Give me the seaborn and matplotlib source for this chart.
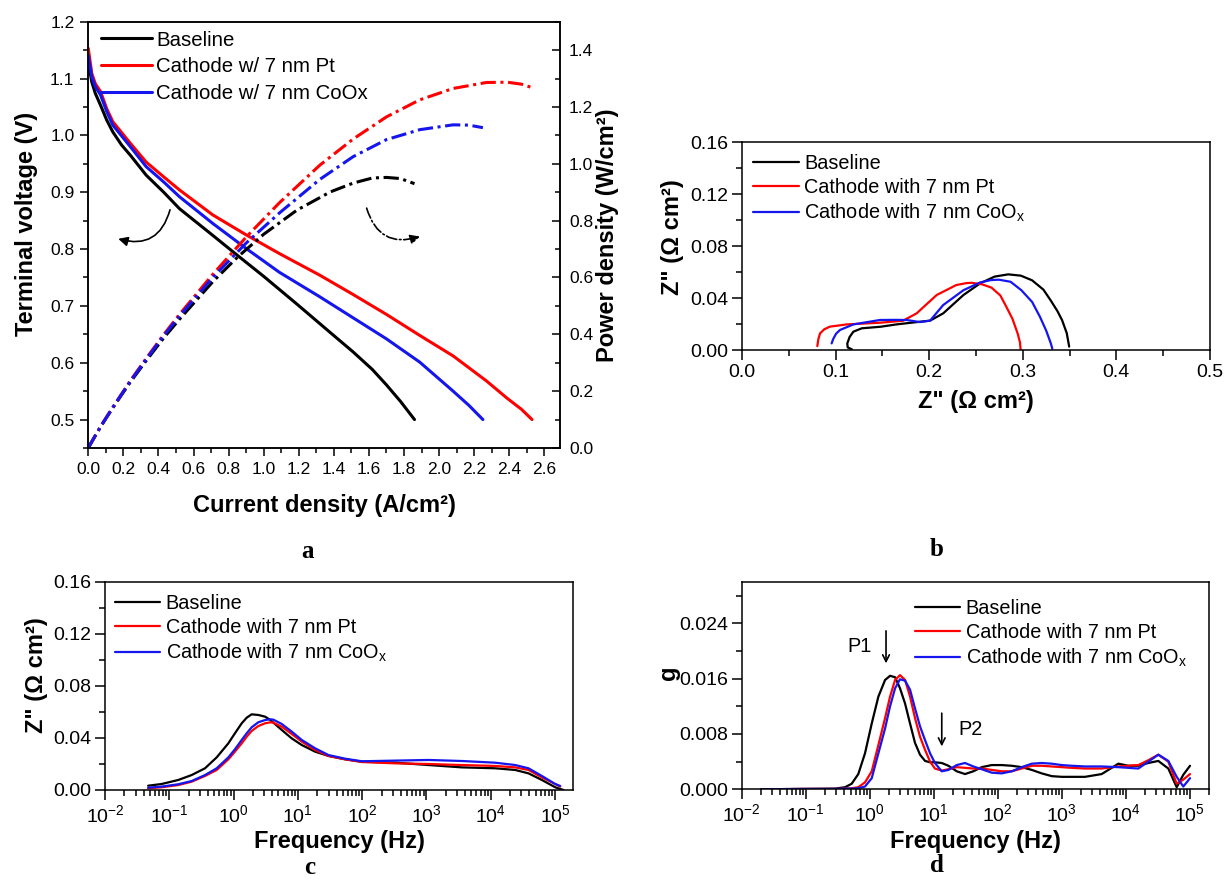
import matplotlib
matplotlib.use("Agg")
import matplotlib.pyplot as plt
import seaborn as sns
import pandas as pd
from matplotlib.ticker import MultipleLocator, FormatStrFormatter, LogLocator, NullFormatter

# ---------------- data: panel a (polarization / power) ----------------
labels_a = ["Baseline", "Cathode w/ 7 nm Pt", "Cathode w/ 7 nm CoOx"]
I_base = [0.0, 0.02, 0.04, 0.07, 0.105, 0.14, 0.19, 0.24, 0.33, 0.43, 0.52, 0.71, 0.85, 1.00, 1.19, 1.38, 1.51, 1.62, 1.70, 1.78, 1.86]
V_base = [1.13, 1.094, 1.074, 1.053, 1.027, 1.006, 0.983, 0.965, 0.930, 0.900, 0.871, 0.824, 0.789, 0.752, 0.703, 0.653, 0.619, 0.588, 0.561, 0.532, 0.500]
P_base = [0.0, 0.022, 0.043, 0.074, 0.108, 0.141, 0.187, 0.232, 0.307, 0.387, 0.453, 0.585, 0.671, 0.752, 0.837, 0.901, 0.932, 0.950, 0.952, 0.948, 0.930]

I_pt = [0.0, 0.02, 0.04, 0.07, 0.105, 0.14, 0.24, 0.33, 0.43, 0.52, 0.71, 0.90, 1.09, 1.32, 1.51, 1.70, 1.89, 2.08, 2.27, 2.39, 2.47, 2.53]
V_pt = [1.153, 1.109, 1.091, 1.077, 1.047, 1.024, 0.986, 0.953, 0.927, 0.904, 0.860, 0.825, 0.792, 0.754, 0.720, 0.685, 0.648, 0.612, 0.568, 0.537, 0.518, 0.500]
P_pt = [0.0, 0.022, 0.044, 0.075, 0.110, 0.143, 0.237, 0.315, 0.399, 0.470, 0.611, 0.742, 0.863, 0.995, 1.087, 1.165, 1.225, 1.265, 1.286, 1.287, 1.280, 1.268]

I_co = [0.0, 0.02, 0.04, 0.07, 0.105, 0.14, 0.24, 0.33, 0.43, 0.52, 0.71, 0.90, 1.09, 1.32, 1.51, 1.70, 1.89, 2.08, 2.17, 2.25]
V_co = [1.141, 1.103, 1.086, 1.071, 1.042, 1.018, 0.980, 0.945, 0.918, 0.892, 0.845, 0.801, 0.759, 0.716, 0.679, 0.642, 0.601, 0.550, 0.525, 0.500]
P_co = [0.0, 0.022, 0.043, 0.075, 0.109, 0.143, 0.235, 0.312, 0.395, 0.464, 0.600, 0.721, 0.827, 0.945, 1.025, 1.085, 1.120, 1.137, 1.136, 1.127]

# ---------------- data: panel b (Nyquist) ----------------
labels_bcd = ["Baseline", "Cathode with 7 nm Pt", r"Cathode with 7 nm CoO$_\mathregular{x}$"]
Zre_base = [0.1175, 0.113, 0.1125, 0.115, 0.119, 0.128, 0.148, 0.165, 0.187, 0.201, 0.215, 0.2366, 0.2545, 0.270, 0.2845, 0.298, 0.310, 0.322, 0.330, 0.337, 0.342, 0.347, 0.3496]
Zim_base = [0.0005, 0.002, 0.005, 0.010, 0.0141, 0.0167, 0.0179, 0.0197, 0.0215, 0.0226, 0.0282, 0.0423, 0.0513, 0.0565, 0.0582, 0.0572, 0.0536, 0.0465, 0.038, 0.030, 0.023, 0.013, 0.0026]
Zre_pt = [0.0805, 0.0815, 0.0834, 0.088, 0.094, 0.112, 0.1474, 0.172, 0.1866, 0.208, 0.229, 0.240, 0.2455, 0.2566, 0.2666, 0.2760, 0.2825, 0.2890, 0.2945, 0.2970, 0.2977]
Zim_pt = [0.003, 0.008, 0.0128, 0.016, 0.018, 0.0197, 0.021, 0.0225, 0.0282, 0.0423, 0.0500, 0.0515, 0.0517, 0.0505, 0.0480, 0.0420, 0.0332, 0.024, 0.0128, 0.006, 0.0005]
Zre_co = [0.0958, 0.0975, 0.1005, 0.1047, 0.119, 0.1474, 0.163, 0.176, 0.190, 0.201, 0.215, 0.2366, 0.2545, 0.2660, 0.2745, 0.2870, 0.2985, 0.310, 0.3184, 0.3250, 0.3300, 0.3316]
Zim_co = [0.0051, 0.0085, 0.0125, 0.0154, 0.0197, 0.0231, 0.0232, 0.0231, 0.0215, 0.0226, 0.0346, 0.0460, 0.0520, 0.0538, 0.0541, 0.0525, 0.0460, 0.0370, 0.0255, 0.0150, 0.0051, 0.001]

# ---------------- data: panel c (Z'' vs frequency) ----------------
freq_c = [0.047, 0.076, 0.138, 0.223, 0.36, 0.547, 0.83, 1.05, 1.34, 1.60, 1.91, 2.43, 3.09, 3.69, 4.16,
          5.61, 8.03, 11.5, 18.5, 29.9, 54.2, 98.6, 326, 1075, 3548, 11700, 24000, 38600, 62400, 100500, 120200]
freq_c_base = [0.047, 0.076, 0.138, 0.223, 0.36, 0.547, 0.83, 1.05, 1.34, 1.60, 1.91, 2.43, 3.09, 3.69, 4.16,
               5.61, 8.03, 11.5, 18.5, 29.9, 54.2, 98.6, 326, 1075, 3548, 11700, 24000, 38600, 62400, 100500, 120200, 135500]
Zc_base = [0.0033, 0.0046, 0.0077, 0.0115, 0.0167, 0.0251, 0.0359, 0.0436, 0.0513, 0.0556, 0.0582, 0.0577, 0.0564, 0.0540, 0.0518,
           0.0462, 0.0397, 0.0346, 0.0295, 0.0262, 0.0236, 0.0218, 0.0210, 0.0192, 0.0174, 0.0167, 0.0154, 0.0128, 0.0077, 0.0021, 0.0008, 0.0]
Zc_pt = [0.0013, 0.0021, 0.0038, 0.0064, 0.0108, 0.0154, 0.0236, 0.0295, 0.0359, 0.0410, 0.0454, 0.0492, 0.0513, 0.0520, 0.0518,
         0.0487, 0.0431, 0.0372, 0.0308, 0.0262, 0.0236, 0.0215, 0.0205, 0.0200, 0.0192, 0.0185, 0.0174, 0.0154, 0.0097, 0.0046, 0.0026]
Zc_co = [0.0018, 0.0026, 0.0044, 0.0069, 0.0115, 0.0167, 0.0251, 0.0313, 0.0385, 0.0436, 0.0482, 0.0521, 0.0538, 0.0544, 0.0541,
         0.0508, 0.0449, 0.0385, 0.0321, 0.0269, 0.0241, 0.0221, 0.0226, 0.0231, 0.0223, 0.0210, 0.0192, 0.0167, 0.0108, 0.0046, 0.0031]

# ---------------- data: panel d (DRT) ----------------
freq_d = [0.020, 0.086, 0.286, 0.41, 0.52, 0.66, 0.84, 1.07, 1.36, 1.73, 2.07, 2.48, 2.96, 3.55, 4.25, 5.08, 6.08, 7.29,
          8.73, 10.4, 13.3, 16.9, 22.8, 30.7, 41.4, 56.0, 80.3, 115, 165, 236, 339, 485, 695, 995, 1429, 2304, 4198,
          7640, 10940, 15670, 22480, 32210, 46130, 62370, 79100, 100700]
g_base = [0.0, 0.00005, 0.0001, 0.0003, 0.0008, 0.0022, 0.0052, 0.0095, 0.0134, 0.0158, 0.0164, 0.0162, 0.0146, 0.0124,
          0.0095, 0.0067, 0.0050, 0.0041, 0.0039, 0.0039, 0.0038, 0.0034, 0.0026, 0.0022, 0.0026, 0.0032, 0.0035, 0.0035,
          0.0034, 0.0032, 0.0028, 0.0023, 0.0019, 0.0018, 0.0018, 0.0018, 0.0022, 0.0037, 0.0034, 0.0034, 0.0038, 0.0041,
          0.0030, 0.0003, 0.0021, 0.0034]
g_pt = [0.0, 0.00005, 0.00005, 0.0001, 0.00015, 0.0003, 0.0010, 0.0026, 0.0064, 0.0103, 0.0134, 0.0158, 0.0165, 0.0158,
        0.0134, 0.0103, 0.0076, 0.0057, 0.0040, 0.0030, 0.0027, 0.0029, 0.0032, 0.0031, 0.0030, 0.0030, 0.0028, 0.0026,
        0.0026, 0.0030, 0.0034, 0.0034, 0.0033, 0.0032, 0.0031, 0.0030, 0.0030, 0.0033, 0.0034, 0.0035, 0.0042, 0.0050,
        0.0040, 0.0008, 0.0014, 0.0022]
g_co = [0.0, 0.00005, 0.00005, 0.0001, 0.0001, 0.00015, 0.0004, 0.0016, 0.0052, 0.0088, 0.0120, 0.0146, 0.0159, 0.0157,
        0.0144, 0.0117, 0.0091, 0.0071, 0.0052, 0.0038, 0.0026, 0.0028, 0.0035, 0.0038, 0.0033, 0.0029, 0.0024, 0.0023,
        0.0026, 0.0032, 0.0037, 0.0038, 0.0037, 0.0035, 0.0034, 0.0033, 0.0033, 0.0032, 0.0031, 0.0030, 0.0040, 0.0050,
        0.0041, 0.0018, 0.0004, 0.0016]

COLORS = ["#000000", "#ff0000", "#1515ee"]

# ---------------- style ----------------
sns.set_theme(style="ticks")
plt.rcParams["font.family"] = ["Liberation Sans", "DejaVu Sans"]
plt.rcParams.update({
    "mathtext.fontset": "custom",
    "mathtext.rm": "Liberation Sans",
    "mathtext.it": "Liberation Sans:italic",
    "mathtext.bf": "Liberation Sans:bold",
    "axes.linewidth": 1.1,
    "axes.edgecolor": "black",
    "text.color": "black",
    "axes.labelcolor": "black",
    "xtick.color": "black",
    "ytick.color": "black",
})

fig = plt.figure(figsize=(12.26, 8.81), dpi=100)
axA = fig.add_axes([0.0720, 0.4915, 0.3847, 0.4839])
axA2 = axA.twinx()
axB = fig.add_axes([0.6052, 0.6027, 0.3817, 0.2361])
axC = fig.add_axes([0.0856, 0.1033, 0.3820, 0.2361])
axD = fig.add_axes([0.6051, 0.1041, 0.3811, 0.2356])

LABEL_KW = dict(fontsize=17, fontweight="bold")
DASHDOT = (0, (5, 1.5, 1, 1.5))

# ---------------- panel a ----------------
for lab, I, V, P, c in zip(labels_a, [I_base, I_pt, I_co], [V_base, V_pt, V_co], [P_base, P_pt, P_co], COLORS):
    df = pd.DataFrame({"I": I, "V": V, "P": P})
    sns.lineplot(data=df, x="I", y="V", ax=axA, color=c, lw=2.2, sort=False, estimator=None, label=lab)
    sns.lineplot(data=df, x="I", y="P", ax=axA2, color=c, lw=2.2, sort=False, estimator=None,
                 legend=False, linestyle=DASHDOT)

axA.set_xlim(0, 2.689)
axA.set_ylim(0.45, 1.2)
axA2.set_ylim(0, 1.5)
axA.xaxis.set_major_locator(MultipleLocator(0.2))
axA.xaxis.set_minor_locator(MultipleLocator(0.1))
axA.yaxis.set_major_locator(MultipleLocator(0.1))
axA.yaxis.set_minor_locator(MultipleLocator(0.05))
axA.xaxis.set_major_formatter(FormatStrFormatter("%.1f"))
axA.yaxis.set_major_formatter(FormatStrFormatter("%.1f"))
axA2.yaxis.set_major_locator(MultipleLocator(0.2))
axA2.yaxis.set_minor_locator(MultipleLocator(0.1))
axA2.yaxis.set_major_formatter(FormatStrFormatter("%.1f"))
axA.tick_params(which="both", direction="out", top=False, right=False, labelsize=12.5, width=1.1)
axA.tick_params(which="major", length=6, pad=4)
axA.tick_params(which="minor", length=3.5)
axA2.tick_params(axis="y", which="both", direction="in", labelsize=12.5, width=1.1, pad=6.5)
axA2.tick_params(axis="y", which="major", length=6)
axA2.tick_params(axis="y", which="minor", length=3.5)
axA.set_xlabel("Current density (A/cm²)", **LABEL_KW)
axA.set_ylabel("Terminal voltage (V)", **LABEL_KW)
axA2.set_ylabel("Power density (W/cm²)", **LABEL_KW)
axA.xaxis.set_label_coords(0.5, -0.109)
axA.yaxis.set_label_coords(-0.106, 0.525)
axA2.yaxis.set_label_coords(1.0763, 0.5)
h, l = axA.get_legend_handles_labels()
axA.legend(h, l, loc="upper left", bbox_to_anchor=(0.026, 0.979), frameon=False, fontsize=14.7,
           handlelength=2.5, handletextpad=0.22, labelspacing=0.37, borderpad=0, borderaxespad=0)

axA.annotate("", xy=(0.171, 0.818), xytext=(0.466, 0.869),
             arrowprops=dict(arrowstyle="-|>", connectionstyle="arc3,rad=-0.5", color="black",
                             lw=1.2, mutation_scale=14, shrinkA=0, shrinkB=0))
axA.annotate("", xy=(1.891, 0.822), xytext=(1.587, 0.872),
             arrowprops=dict(arrowstyle="-|>", connectionstyle="arc3,rad=0.5", color="black",
                             lw=1.2, ls="-.", mutation_scale=14, shrinkA=0, shrinkB=0))


def style_small(ax, ylab, xlab, ylab_xy, xlab_y):
    ax.tick_params(which="both", direction="out", top=False, right=False, labelsize=14, width=1.1)
    ax.tick_params(which="major", length=7, pad=3)
    ax.tick_params(which="minor", length=4)
    ax.set_xlabel(xlab, **LABEL_KW)
    ax.set_ylabel(ylab, **LABEL_KW)
    ax.xaxis.set_label_coords(0.5, xlab_y)
    ax.yaxis.set_label_coords(*ylab_xy)


def small_legend(ax, anchor):
    h, l = ax.get_legend_handles_labels()
    ax.legend(h, l, loc="upper left", bbox_to_anchor=anchor, frameon=False, fontsize=14.3,
              handlelength=2.3, handletextpad=0.27, labelspacing=0.25, borderpad=0, borderaxespad=0)


# ---------------- panel b ----------------
for lab, x, y, c in zip(labels_bcd, [Zre_base, Zre_pt, Zre_co], [Zim_base, Zim_pt, Zim_co], COLORS):
    sns.lineplot(x=x, y=y, ax=axB, color=c, lw=1.6, sort=False, estimator=None, label=lab)
axB.set_xlim(0, 0.5)
axB.set_ylim(0, 0.16)
axB.xaxis.set_major_locator(MultipleLocator(0.1))
axB.xaxis.set_minor_locator(MultipleLocator(0.05))
axB.yaxis.set_major_locator(MultipleLocator(0.04))
axB.yaxis.set_minor_locator(MultipleLocator(0.02))
axB.xaxis.set_major_formatter(FormatStrFormatter("%.1f"))
axB.yaxis.set_major_formatter(FormatStrFormatter("%.2f"))
style_small(axB, 'Z" (Ω cm²)', 'Z" (Ω cm²)', (-0.124, 0.545), -0.192)
small_legend(axB, (0.0235, 0.942))

# ---------------- panel c ----------------
for lab, f, z, c in zip(labels_bcd, [freq_c_base, freq_c, freq_c], [Zc_base, Zc_pt, Zc_co], COLORS):
    sns.lineplot(x=f, y=z, ax=axC, color=c, lw=1.6, sort=False, estimator=None, label=lab)
axC.set_xscale("log")
axC.set_xlim(1e-2, 1.92e5)
axC.set_ylim(0, 0.16)
axC.yaxis.set_major_locator(MultipleLocator(0.04))
axC.yaxis.set_minor_locator(MultipleLocator(0.02))
axC.yaxis.set_major_formatter(FormatStrFormatter("%.2f"))
style_small(axC, 'Z" (Ω cm²)', "Frequency (Hz)", (-0.122, 0.553), -0.192)
small_legend(axC, (0.0205, 0.942))

# ---------------- panel d ----------------
for lab, g, c in zip(labels_bcd, [g_base, g_pt, g_co], COLORS):
    sns.lineplot(x=freq_d, y=g, ax=axD, color=c, lw=1.6, sort=False, estimator=None, label=lab)
axD.set_xscale("log")
axD.set_xlim(1e-2, 2.0e5)
axD.set_ylim(0, 0.030)
axD.yaxis.set_major_locator(MultipleLocator(0.008))
axD.yaxis.set_minor_locator(MultipleLocator(0.004))
axD.yaxis.set_major_formatter(FormatStrFormatter("%.3f"))
style_small(axD, "g", "Frequency (Hz)", (-0.132, 0.56), -0.196)
small_legend(axD, (0.37, 0.917))

for ax in (axC, axD):
    ax.xaxis.set_major_locator(LogLocator(base=10, numticks=20))
    ax.xaxis.set_minor_locator(LogLocator(base=10, subs=[2, 3, 4, 5, 6, 7, 8, 9], numticks=20))
    ax.xaxis.set_minor_formatter(NullFormatter())

axD.annotate("", xy=(1.79, 0.0182), xytext=(1.79, 0.0229),
             arrowprops=dict(arrowstyle="->", color="black", lw=1.2, shrinkA=0, shrinkB=0, mutation_scale=12))
axD.annotate("", xy=(13.3, 0.0062), xytext=(13.3, 0.0110),
             arrowprops=dict(arrowstyle="->", color="black", lw=1.2, shrinkA=0, shrinkB=0, mutation_scale=12))
axD.text(0.70, 0.0207, "P1", fontsize=14.3, ha="center", va="center")
axD.text(36.8, 0.0086, "P2", fontsize=14.3, ha="center", va="center")

# ---------------- panel letters ----------------
for s, x, y in [("a", 308, 552), ("b", 937, 550), ("c", 310, 867), ("d", 937, 866)]:
    fig.text(x / 1226, 1 - y / 881, s, fontsize=18, fontweight="bold", family="Liberation Serif",
             ha="center", va="center")

fig.savefig("out.png", dpi=100)
